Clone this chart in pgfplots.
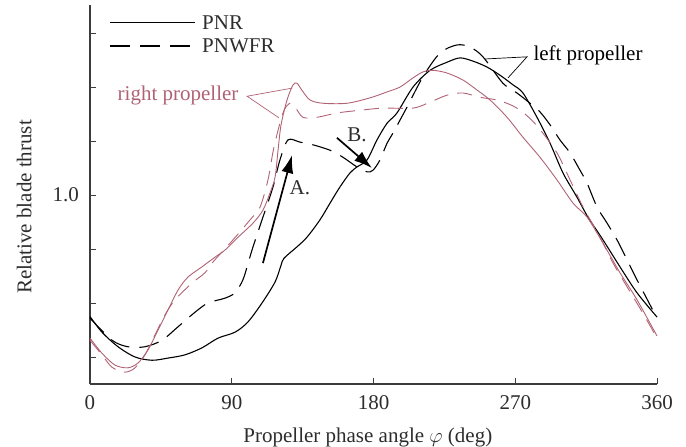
\documentclass[border=0pt]{standalone}
\usepackage{pgfplots}
\pgfplotsset{compat=1.18}
\usepackage{fontspec}
\setmainfont{Liberation Serif}
\usetikzlibrary{arrows.meta}
\definecolor{mauve}{RGB}{176,98,116}
\definecolor{axgray}{RGB}{60,60,60}
\definecolor{txtgray}{RGB}{45,45,45}
\begin{document}
\fontsize{21bp}{25bp}\selectfont
\begin{tikzpicture}
\path[use as bounding box] (-90bp,-63bp) rectangle (596bp,384bp);
\begin{axis}[
 at={(0,0)}, anchor=south west,
 scale only axis, width=567bp, height=379bp,
 xmin=0,xmax=360,ymin=0.65,ymax=1.352,
 axis x line*=bottom, axis y line*=left,
 axis line style={-, line width=1.2pt, color=axgray},
 xtick={0,90,180,270,360},
 ytick={0.7,0.8,0.9,1.0,1.1,1.2,1.3},
 yticklabels={,,,1.0,,,},
 tick style={line width=1pt, color=axgray},
 major tick length=6bp,
 tick align=inside,
 /pgf/number format/assume math mode=true,
 tick label style={text=txtgray},
 xticklabel style={yshift=-4bp},
 yticklabel style={xshift=-4bp},
 label style={text=txtgray},
 xlabel={Propeller phase angle $\varphi$ (deg)},
 ylabel={Relative blade thrust},
 xlabel style={at={(axis description cs:0.49,-0.14)}, anchor=center},
 ylabel style={at={(axis description cs:-0.116,0.467)}, anchor=center},
 clip=false,
]
% PNR left propeller (black solid)
\addplot[black, line width=1.1pt, smooth, tension=0.5] coordinates {
(0,0.775) (7.6,0.746) (17.8,0.719) (28.6,0.700) (39.4,0.694) (49.5,0.698)
(60.3,0.704) (71.1,0.717) (81.3,0.735) (92.1,0.746) (100.3,0.765) (109.2,0.800)
(117.5,0.839) (121.3,0.870) (123.2,0.883) (131.4,0.904) (137.8,0.922) (146.0,0.954)
(152.4,0.985) (158.7,1.015) (165.1,1.041) (169.5,1.052) (175.9,1.065) (182.2,1.102)
(188.6,1.133) (194.9,1.152) (205.1,1.200) (215.9,1.231) (226.7,1.246) (234.9,1.254)
(243.2,1.248) (252.1,1.237) (260.3,1.222) (268.6,1.204) (274.9,1.189) (283.8,1.144)
(292.1,1.096) (300.3,1.041) (309.2,0.996) (316.2,0.959) (325.7,0.917) (336.5,0.867)
(347.3,0.819) (360,0.774)};
% PNWFR left propeller (black dashed)
\addplot[black, line width=1.1pt, dash pattern=on 20bp off 10bp, smooth, tension=0.5] coordinates {
(0,0.772) (14.0,0.731) (24.1,0.719) (34.9,0.719) (45.7,0.731) (55.9,0.756)
(66.7,0.783) (74.9,0.800) (85.7,0.809) (92.1,0.819) (97.1,0.843) (100.5,0.875)
(103.5,0.904) (109.8,0.959) (116.2,1.015) (120.6,1.065) (125.7,1.102) (133.3,1.098)
(141.6,1.093) (152.4,1.083) (160.6,1.070) (169.5,1.052) (175.9,1.043) (179.7,1.046)
(184.1,1.065) (188.6,1.096) (192.4,1.115) (201.3,1.163) (211.4,1.219) (222.2,1.263)
(233.0,1.278) (241.3,1.274) (249.5,1.256) (262.2,1.207) (271.1,1.189) (279.4,1.170)
(285.7,1.154) (292.1,1.130) (298.4,1.102) (304.8,1.078) (311.1,1.046) (315.6,1.022)
(321.9,0.978) (328.3,0.948) (334.6,0.917) (341.0,0.880) (347.3,0.843) (360,0.772)};
% PNR right propeller (mauve solid)
\addplot[mauve, line width=0.9pt, smooth, tension=0.5] coordinates {
(0,0.735) (7.6,0.707) (15.9,0.685) (24.1,0.680) (30.5,0.689) (36.8,0.713)
(43.2,0.750) (49.5,0.787) (55.9,0.824) (62.2,0.848) (71.1,0.867) (79.4,0.885)
(85.7,0.898) (93.3,0.920) (103.5,0.948) (109.8,0.972) (114.3,1.004) (117.5,1.033)
(119.4,1.083) (121.3,1.130) (125.1,1.176) (128.9,1.204) (131.4,1.207) (134.6,1.194)
(139.7,1.176) (147.9,1.170) (163.2,1.170) (177.8,1.180) (188.6,1.191) (196.8,1.200)
(205.1,1.217) (211.4,1.228) (217.8,1.231) (226.7,1.226) (236.8,1.213) (245.0,1.196)
(254.0,1.176) (264.8,1.144) (274.9,1.107) (285.7,1.070) (296.5,1.028) (306.7,0.985)
(315.6,0.959) (325.7,0.911) (336.5,0.856) (347.3,0.806) (360,0.739)};
% PNWFR right propeller (mauve dashed)
\addplot[mauve, line width=0.9pt, dash pattern=on 15bp off 9bp, smooth, tension=0.5] coordinates {
(0,0.731) (7.6,0.704) (14.0,0.681) (22.2,0.672) (28.6,0.680) (34.9,0.704)
(41.3,0.741) (47.6,0.778) (54.0,0.806) (64.8,0.837) (73.0,0.856) (78.1,0.876)
(90.8,0.917) (101.6,0.954) (108.0,0.978) (113.0,1.028) (116.2,1.080) (119.4,1.120)
(123.2,1.157) (127.0,1.170) (130.2,1.163) (135.2,1.144) (144.1,1.144) (156.8,1.152)
(171.4,1.157) (186.0,1.161) (205.1,1.161) (215.9,1.172) (226.7,1.185) (236.8,1.189)
(247.6,1.181) (258.4,1.176) (268.6,1.165) (277.0,1.148) (285.0,1.124) (296.5,1.078)
(304.8,1.028) (313.0,0.978) (323.8,0.922) (332.1,0.874) (341.0,0.830) (351.1,0.781)
(360,0.735)};
% legend (drawn by hand)
\draw[black, line width=1.1pt] (axis cs:12.7,1.320) -- (axis cs:66.7,1.320);
\node[anchor=west, inner sep=0pt, text=txtgray] at (axis cs:71.1,1.320) {PNR};
\draw[black, line width=1.1pt, dash pattern=on 20bp off 10bp] (axis cs:12.7,1.276) -- (axis cs:66.7,1.276);
\node[anchor=west, inner sep=0pt, text=txtgray] at (axis cs:71.1,1.276) {PNWFR};
% annotations
\draw[line width=1.7pt, -{Latex[length=18bp,width=12bp]}] (axis cs:109.8,0.874) -- (axis cs:128.3,1.074);
\node[text=txtgray] at (axis cs:133.3,1.013) {A.};
\draw[line width=1.7pt, -{Latex[length=18bp,width=12bp]}] (axis cs:156.8,1.106) -- (axis cs:179.0,1.050);
\node[text=txtgray] at (axis cs:169.5,1.112) {B.};
\node[text=mauve] at (axis cs:55.9,1.185) {right propeller};
\draw[mauve, line width=0.7pt] (axis cs:128.3,1.198) -- (axis cs:99.7,1.183) -- (axis cs:120.0,1.143);
\node[text=black] at (axis cs:316.2,1.259) {left propeller};
\draw[black, line width=0.7pt] (axis cs:250.8,1.252) -- (axis cs:277.5,1.256) -- (axis cs:265.4,1.217);
\end{axis}
\end{tikzpicture}
\end{document}
